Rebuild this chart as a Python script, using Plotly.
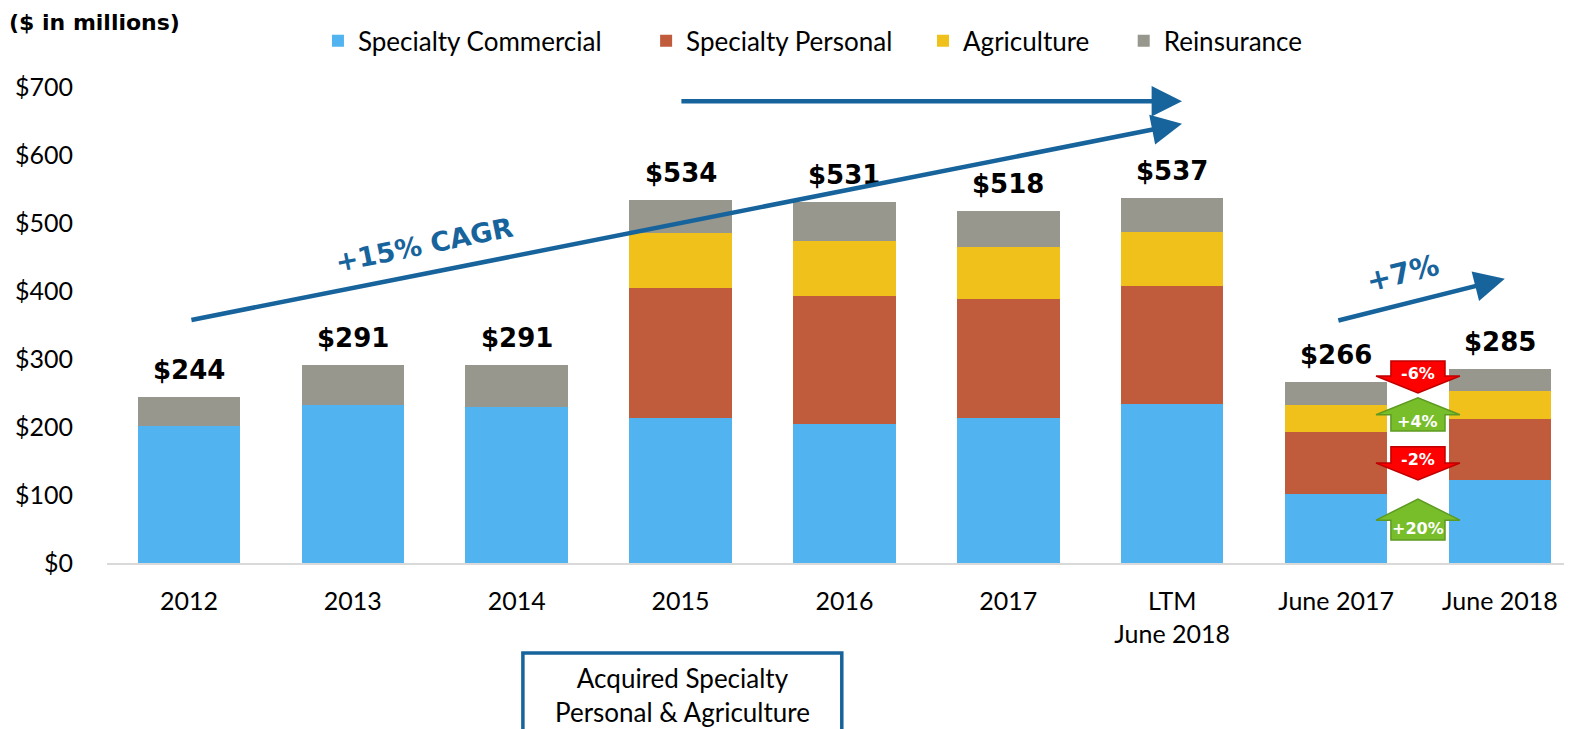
import plotly.graph_objects as go

# ---------------- data ----------------
categories = ["2012", "2013", "2014", "2015", "2016", "2017",
              "LTM<br>June 2018", "June 2017", "June 2018"]
commercial = [202, 232, 230, 213, 204, 213, 234, 101, 122]
personal = [0, 0, 0, 191, 189, 175, 173, 92, 90]
agriculture = [0, 0, 0, 81, 80, 77, 80, 39, 41]
reinsurance = [42, 59, 61, 49, 58, 53, 50, 34, 32]
totals = [244, 291, 291, 534, 531, 518, 537, 266, 285]
total_labels = ["$244", "$291", "$291", "$534", "$531", "$518", "$537", "$266", "$285"]
y_ticks = [0, 100, 200, 300, 400, 500, 600, 700]
y_tick_labels = ["$0", "$100", "$200", "$300", "$400", "$500", "$600", "$700"]
change_labels = ["-6%", "+4%", "-2%", "+20%"]

# ---------------- style ----------------
FONT = "Lato, 'Open Sans', sans-serif"
BOLD = "'DejaVu Sans', Lato, sans-serif"
BLUE = "#17639C"
series = [("Specialty Commercial", commercial, "#51B3F0", "legend", 0.144),
          ("Specialty Personal", personal, "#C05B3B", "legend2", 0.368),
          ("Agriculture", agriculture, "#F0C11B", "legend3", 0.557),
          ("Reinsurance", reinsurance, "#97978D", "legend4", 0.694)]

x_idx = list(range(len(categories)))

fig = go.Figure()
legend_layouts = {}
for name, vals, color, leg, lx in series:
    fig.add_trace(go.Bar(x=x_idx, y=vals, name=name, width=0.625, legend=leg,
                         marker=dict(color=color, line=dict(width=0))))
    legend_layouts[leg] = dict(orientation="h", x=lx, y=1.097, xanchor="left", yanchor="middle",
                               font=dict(family=FONT, size=26, color="black"),
                               itemwidth=30, bgcolor="rgba(0,0,0,0)")

annotations = []
# totals above bars
for xi, t, lab in zip(x_idx, totals, total_labels):
    annotations.append(dict(x=xi, y=t, xref="x", yref="y", text="<b>" + lab + "</b>",
                            showarrow=False, yanchor="bottom", yshift=10,
                            font=dict(family=BOLD, size=26, color="black")))

# title
annotations.append(dict(x=-0.068, y=1.1345, xref="paper", yref="paper", xanchor="left",
                        yanchor="middle", text="<b>($ in millions)</b>", showarrow=False,
                        font=dict(family=BOLD, size=22, color="black")))

# trend arrows
arrow_specs = [((2.996, 679), (6.06, 679)),
               ((0.006, 357), (6.06, 646)),
               ((7.005, 356), (8.03, 418))]
for (tx, ty), (hx, hy) in arrow_specs:
    annotations.append(dict(x=hx, y=hy, ax=tx, ay=ty, xref="x", yref="y", axref="x", ayref="y",
                            text="", showarrow=True, arrowhead=2, arrowsize=1.35, arrowwidth=4.5,
                            arrowcolor=BLUE, standoff=0, startstandoff=0))

annotations.append(dict(x=1.44, y=468, xref="x", yref="y", text="<b>+15% CAGR</b>",
                        showarrow=False, textangle=-11.5,
                        font=dict(family=BOLD, size=27, color=BLUE)))
annotations.append(dict(x=7.41, y=426, xref="x", yref="y", text="<b>+7%</b>",
                        showarrow=False, textangle=-14,
                        font=dict(family=BOLD, size=29, color=BLUE)))

# acquisition callout
annotations.append(dict(x=3.0, y=-75, ax=3.0, ay=-132, xref="x", yref="y", axref="x", ayref="y",
                        text="", showarrow=True, arrowhead=2, arrowsize=1.3, arrowwidth=4,
                        arrowcolor=BLUE, standoff=0, startstandoff=0))
annotations.append(dict(x=3.01, y=-0.277, xref="x", yref="paper", yanchor="middle",
                        xanchor="center",
                        text="Acquired Specialty<br>Personal & Agriculture",
                        showarrow=False, font=dict(family=FONT, size=26, color="black")))

shapes = [dict(type="rect", xref="x", yref="paper", x0=2.038, x1=3.984, y0=-0.189, y1=-0.40,
               line=dict(color=BLUE, width=3.5), fillcolor="rgba(0,0,0,0)")]

# block arrows between June 2017 and June 2018
xc, hw, hh = 7.5, 0.165, 0.256
block_specs = [  # (far end of body, base of head, tip, text y, fill, line)
    (297, 275, 250, 279, "#FF0000", "#C00000"),
    (194, 218, 243, 208, "#78BE2A", "#5E9A22"),
    (171, 147, 122, 152, "#FF0000", "#C00000"),
    (34, 63, 94, 51, "#78BE2A", "#5E9A22"),
]
for (far, base, tip, ty, fc, lc), lab in zip(block_specs, change_labels):
    path = (f"M {xc-hw},{far} L {xc+hw},{far} L {xc+hw},{base} L {xc+hh},{base} "
            f"L {xc},{tip} L {xc-hh},{base} L {xc-hw},{base} Z")
    shapes.append(dict(type="path", xref="x", yref="y", path=path, fillcolor=fc,
                       line=dict(color=lc, width=1.5), layer="above"))
    annotations.append(dict(x=xc, y=ty, xref="x", yref="y", text="<b>" + lab + "</b>",
                            showarrow=False, font=dict(family=BOLD, size=16, color="white")))

fig.update_layout(
    width=1564, height=721,
    margin=dict(l=99, r=0, t=79, b=166, autoexpand=False),
    barmode="stack", bargap=0.375,
    plot_bgcolor="white", paper_bgcolor="white",
    font=dict(family=FONT, size=25, color="black"),
    showlegend=True,
    xaxis=dict(range=[-0.5, 8.44], tickmode="array", tickvals=x_idx, ticktext=categories,
               showgrid=False, zeroline=False, showline=True, linecolor="#D9D9D9",
               linewidth=2, ticks="", ticklabelstandoff=15, automargin=False,
               tickfont=dict(family=FONT, size=25)),
    yaxis=dict(range=[0, 700], tickmode="array", tickvals=y_ticks, ticktext=y_tick_labels,
               showgrid=False, zeroline=False, showline=False, ticks="", automargin=False,
               ticklabelstandoff=33, tickfont=dict(family=FONT, size=25)),
    annotations=annotations,
    shapes=shapes,
    **legend_layouts,
)

fig.write_html("out.html")
